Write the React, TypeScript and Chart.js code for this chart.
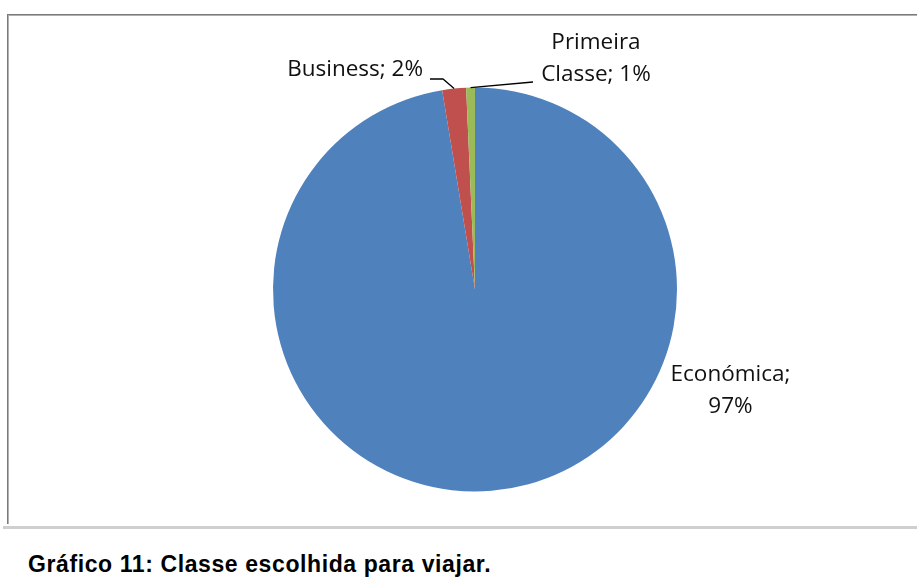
import React, { useEffect, useRef } from "react";
import { Chart, registerables } from "chart.js";

Chart.register(...registerables);

// ---- data ----
const categories = ["Económica", "Business", "Primeira Classe"];
const shares = [97.4, 1.9, 0.7];
const sliceColors = ["#4F81BD", "#C0504D", "#9BBB59"];
const captionText = "Gráfico 11: Classe escolhida para viajar.";

// ---- label layout (offsets from pie centre, px) ----
type LabelLayout = {
  lines: (name: string, pct: string) => string[];
  x: number;
  y: number;
  align: CanvasTextAlign;
  leader?: { x: number; y: number }[];
};
const labelLayouts: LabelLayout[] = [
  { lines: (n, p) => [n + ";", p], x: 255.5, y: 85.5, align: "center" },
  {
    lines: (n, p) => [n + "; " + p],
    x: -52,
    y: -219.5,
    align: "right",
    leader: [
      { x: -32, y: -210.5 },
      { x: -45, y: -210.5 },
    ],
  },
  {
    lines: (n, p) => {
      const parts = n.split(" ");
      return [parts[0], parts.slice(1).join(" ") + "; " + p];
    },
    x: 121,
    y: -246.5,
    align: "center",
    leader: [{ x: 58, y: -207.5 }],
  },
];
const LINE_GAP = 32;
const LABEL_FONT = '22.5px "Open Sans", sans-serif';

const labelPlugin = {
  id: "excelLabels",
  afterDatasetsDraw(chart: any) {
    const ctx: CanvasRenderingContext2D = chart.ctx;
    const meta = chart.getDatasetMeta(0);
    const data: number[] = chart.data.datasets[0].data;
    const total = data.reduce((a, b) => a + b, 0);
    ctx.save();
    meta.data.forEach((arc: any, i: number) => {
      const p = arc.getProps(["x", "y", "startAngle", "endAngle", "outerRadius"], true);
      const lay = labelLayouts[i];
      if (!lay) return;
      const cx = p.x;
      const cy = p.y;
      const mid = (p.startAngle + p.endAngle) / 2;
      if (lay.leader) {
        ctx.beginPath();
        ctx.strokeStyle = "#000";
        ctx.lineWidth = 1.3;
        ctx.moveTo(cx + Math.cos(mid) * p.outerRadius, cy + Math.sin(mid) * p.outerRadius);
        lay.leader.forEach((pt) => ctx.lineTo(cx + pt.x, cy + pt.y));
        ctx.stroke();
      }
      const pct = Math.round((data[i] / total) * 100) + "%";
      const lines = lay.lines(String(chart.data.labels[i]), pct);
      ctx.font = LABEL_FONT;
      ctx.fillStyle = "#111";
      ctx.textAlign = lay.align;
      ctx.textBaseline = "middle";
      lines.forEach((t, k) => ctx.fillText(t, cx + lay.x, cy + lay.y + k * LINE_GAP));
    });
    ctx.restore();
  },
};

export default function App() {
  const ref = useRef<HTMLCanvasElement | null>(null);
  useEffect(() => {
    if (!ref.current) return;
    const chart = new Chart(ref.current, {
      type: "pie",
      data: {
        labels: categories,
        datasets: [
          {
            data: shares,
            backgroundColor: sliceColors,
            borderWidth: 0,
          },
        ],
      },
      options: {
        animation: false,
        responsive: false,
        devicePixelRatio: 1,
        layout: { padding: { top: 87.5, bottom: 92.5, left: 273, right: 240 } },
        plugins: {
          legend: { display: false },
          tooltip: { enabled: false },
          title: { display: false },
        },
      },
      plugins: [labelPlugin],
    });
    return () => chart.destroy();
  }, []);

  return (
    <div
      style={{
        position: "absolute",
        left: 0,
        top: 0,
        width: 917,
        height: 584,
        background: "#fff",
        overflow: "hidden",
      }}
    >
      <div
        style={{
          position: "absolute",
          left: 7,
          top: 14,
          width: 940,
          height: 510,
          borderTop: "1px solid #7a7a7a",
          borderLeft: "1px solid #7a7a7a",
          boxShadow: "inset 1px 1px 0 #b0b0b0",
          boxSizing: "border-box",
        }}
      />
      <div
        style={{
          position: "absolute",
          left: 3,
          top: 526,
          width: 914,
          height: 3,
          background: "#cfcfcf",
        }}
      />
      <div
        style={{
          position: "absolute",
          left: 28,
          top: 552.5,
          fontFamily: '"Liberation Sans", Arial, sans-serif',
          fontWeight: "bold",
          fontSize: 23,
          lineHeight: "23px",
          whiteSpace: "nowrap",
          color: "#000",
          letterSpacing: 0.6,
        }}
      >
        {captionText}
      </div>
      <canvas
        ref={ref}
        width={917}
        height={584}
        style={{ position: "absolute", left: 0, top: 0, width: 917, height: 584 }}
      />
    </div>
  );
}
